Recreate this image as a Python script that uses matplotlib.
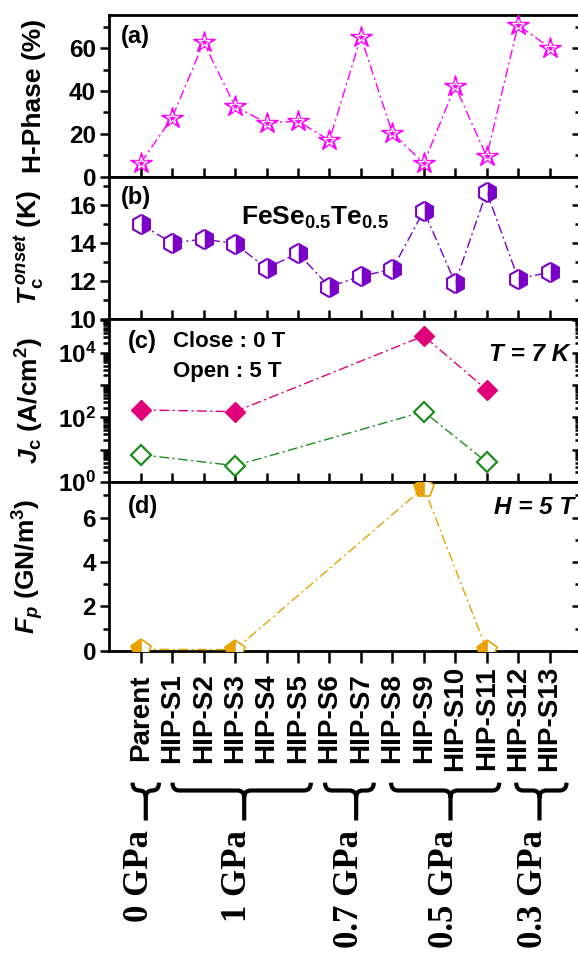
import numpy as np
import matplotlib
matplotlib.use("Agg")
import matplotlib.pyplot as plt
from matplotlib.path import Path
from matplotlib.patches import PathPatch
from matplotlib import transforms
from matplotlib.ticker import MultipleLocator, LogLocator, FuncFormatter, NullFormatter

plt.rcParams['font.family'] = ['Liberation Sans', 'DejaVu Sans']
plt.rcParams['font.weight'] = 'bold'
plt.rcParams['mathtext.fontset'] = 'custom'
plt.rcParams['mathtext.rm'] = 'Liberation Sans:bold'
plt.rcParams['mathtext.it'] = 'Liberation Sans:bold:italic'
plt.rcParams['mathtext.bf'] = 'Liberation Sans:bold'

# ---------------- data ----------------
samples = ['Parent', 'HIP-S1', 'HIP-S2', 'HIP-S3', 'HIP-S4', 'HIP-S5', 'HIP-S6',
           'HIP-S7', 'HIP-S8', 'HIP-S9', 'HIP-S10', 'HIP-S11', 'HIP-S12', 'HIP-S13']
h_phase = [6.4, 27.5, 62.7, 32.8, 25.0, 25.9, 16.9, 65.3, 20.3, 6.2, 42.2, 9.4, 70.8, 60.3]
tc_onset = [14.98, 14.0, 14.21, 13.96, 12.67, 13.47, 11.69, 12.26, 12.61, 15.69,
            11.9, 16.7, 12.13, 12.45]

jc_samples = ['Parent', 'HIP-S3', 'HIP-S9', 'HIP-S11']
jc_0T = [170, 150, 33000, 710]
jc_5T = [7.0, 3.2, 150, 4.1]
fp_5T = [0.06, 0.05, 7.35, 0.05]

groups = ['0 GPa', '1 GPa', '0.7 GPa', '0.5 GPa', '0.3 GPa']
# brace extent (left, right, stem) in sample-index units
brace_left = [-0.26, 1.01, 5.86, 7.96, 11.94]
brace_right = [0.58, 5.41, 7.41, 11.40, 13.54]
brace_stem = [0.16, 3.29, 6.85, 9.85, 12.68]

x = np.arange(len(samples))
xj = [samples.index(s) for s in jc_samples]

# ---------------- figure ----------------
W, H = 578, 956
fig = plt.figure(figsize=(W / 100, H / 100), dpi=100)

left = 109.3 / W
width = (581 - 109.3) / W


def panel(top_px, bot_px):
    return fig.add_axes([left, 1 - bot_px / H, width, (bot_px - top_px) / H])


ax_a = panel(15, 176.5)
ax_b = panel(176.5, 319)
ax_c = panel(319, 482)
ax_d = panel(482, 650.7)

ls = (0, (7, 2.5, 1.5, 2.5))

# (a) H-phase
ax_a.plot(x, h_phase, color='#FF00FF', lw=1.0, ls=ls, marker='*', ms=16,
          mfc='#FF00FF', mec='#FF00FF', clip_on=False, zorder=3)
ax_a.plot(x, h_phase, ls='none', marker='*', ms=8.5, mfc='none', mec='white',
          mew=0.9, clip_on=False, zorder=4)
ax_a.set_ylim(0, 75.5)
ax_a.yaxis.set_major_locator(MultipleLocator(20))
ax_a.yaxis.set_minor_locator(MultipleLocator(10))
ax_a.set_ylabel('H-Phase (%)', fontsize=19, fontweight='bold')
ax_a.text(0.025, 0.94, '(a)', transform=ax_a.transAxes, fontsize=17,
          fontweight='bold', va='top', ha='left')

# (b) Tc onset
ax_b.plot(x, tc_onset, color='#7A00C8', lw=1.0, ls=ls, marker='h', ms=14,
          fillstyle='right', mfc='#7A00C8', mfcalt='white', mec='#7A00C8',
          mew=1.5, clip_on=False, zorder=3)
ax_b.set_ylim(10, 17.5)
ax_b.yaxis.set_major_locator(MultipleLocator(2))
ax_b.yaxis.set_minor_locator(MultipleLocator(1))
ax_b.set_ylabel(r'$T_{\mathrm{c}}^{\,onset}$ (K)', fontsize=19, fontweight='bold')
ax_b.text(0.025, 0.93, '(b)', transform=ax_b.transAxes, fontsize=17,
          fontweight='bold', va='top', ha='left')
ax_b.text(0.28, 0.71, r'FeSe$_{\mathrm{0.5}}$Te$_{\mathrm{0.5}}$',
          transform=ax_b.transAxes, fontsize=19, fontweight='bold',
          va='center', ha='left')

# (c) Jc
ax_c.set_yscale('log')
ax_c.plot(xj, jc_0T, color='#E0007A', lw=1.0, ls=ls, marker='D', ms=10,
          mfc='#E0007A', mec='#E0007A', clip_on=False, zorder=3)
ax_c.plot(xj, jc_5T, color='#1E8C1E', lw=1.0, ls=ls, marker='D', ms=10,
          mfc='white', mec='#1E8C1E', mew=1.6, clip_on=False, zorder=3)
ax_c.set_ylim(1, 1.1e5)
ax_c.yaxis.set_major_locator(LogLocator(base=10, numticks=10))
ax_c.yaxis.set_minor_locator(LogLocator(base=10, subs=np.arange(2, 10), numticks=10))
ax_c.yaxis.set_major_formatter(FuncFormatter(
    lambda v, p: r'$\mathbf{10^{%d}}$' % round(np.log10(v)) if round(np.log10(v)) % 2 == 0 else ''))
ax_c.yaxis.set_minor_formatter(NullFormatter())
ax_c.set_ylabel(r'$J_{\mathrm{c}}$ (A/cm$^{\mathrm{2}}$)', fontsize=19, fontweight='bold')
ax_c.text(0.04, 0.93, '(c)', transform=ax_c.transAxes, fontsize=17,
          fontweight='bold', va='top', ha='left')
ax_c.text(0.135, 0.925, 'Close : 0 T', transform=ax_c.transAxes, fontsize=16,
          fontweight='bold', va='top', ha='left')
ax_c.text(0.135, 0.745, 'Open : 5 T', transform=ax_c.transAxes, fontsize=16,
          fontweight='bold', va='top', ha='left')
ax_c.text(0.975, 0.85, 'T = 7 K', transform=ax_c.transAxes, fontsize=17.5,
          fontweight='bold', fontstyle='italic', va='top', ha='right')

# (d) Fp
ax_d.plot(xj, fp_5T, color='#E8A200', lw=1.0, ls=ls, marker='p', ms=15,
          fillstyle='left', mfc='#E8A200', mfcalt='white', mec='#E8A200',
          mew=1.2, zorder=3)
ax_d.set_ylim(0, 7.6)
ax_d.yaxis.set_major_locator(MultipleLocator(2))
ax_d.yaxis.set_minor_locator(MultipleLocator(1))
ax_d.set_ylabel(r'$F_p$ (GN/m$^{\mathrm{3}}$)', fontsize=19, fontweight='bold')
ax_d.text(0.04, 0.92, '(d)', transform=ax_d.transAxes, fontsize=17,
          fontweight='bold', va='top', ha='left')
ax_d.text(0.985, 0.915, 'H = 5 T', transform=ax_d.transAxes, fontsize=17.5,
          fontweight='bold', fontstyle='italic', va='top', ha='right')

for ax in (ax_a, ax_b, ax_c, ax_d):
    ax.set_xlim(-1, 14)
    ax.set_xticks(x)
    ax.set_xticklabels([])
    for s in ax.spines.values():
        s.set_linewidth(2.0)
    ax.tick_params(axis='y', which='both', left=True, right=True,
                   labelsize=17.5, width=1.8, pad=3)
    ax.tick_params(axis='y', which='major', length=6.5)
    ax.tick_params(axis='y', which='minor', length=4)
    ax.tick_params(axis='x', which='both', direction='in', length=6.5, width=1.8,
                   top=False)
    ax.yaxis.set_label_coords(-0.135, 0.5)
    for lab in ax.get_yticklabels():
        lab.set_fontweight('bold')

for ax in (ax_a, ax_b, ax_c, ax_d):
    ax.tick_params(axis='y', which='both', direction='out')
ax_d.tick_params(axis='x', which='both', direction='out', length=8.5)

# right side ticks point inward
for ax in (ax_a, ax_b, ax_c, ax_d):
    for t in ax.yaxis.get_major_ticks() + ax.yaxis.get_minor_ticks():
        t.tick2line.set_marker(matplotlib.lines.TICKLEFT)

# sample names under the bottom panel
for xi, name in zip(x, samples):
    ax_d.text(xi, -0.40, name, transform=ax_d.get_xaxis_transform(),
              rotation=90, ha='center', va='center', fontsize=20,
              fontweight='bold', clip_on=False)

# braces and pressure groups
tr = transforms.blended_transform_factory(ax_d.transData, fig.transFigure)
yt, yb, yp = 1 - 782.7 / H, 1 - 790.5 / H, 1 - 820.5 / H
dy = 7.0 / H
for g, x0, x1, xm in zip(groups, brace_left, brace_right, brace_stem):
    r = min(0.22, (x1 - x0) / 4)
    verts = [(x0, yt), (x0, yb), (x0 + r, yb), (xm - r, yb), (xm, yb), (xm, yb - dy),
             (xm, yp),
             (x1, yt), (x1, yb), (x1 - r, yb), (xm + r, yb), (xm, yb), (xm, yb - dy)]
    codes = [Path.MOVETO, Path.CURVE3, Path.CURVE3, Path.LINETO, Path.CURVE3, Path.CURVE3,
             Path.LINETO,
             Path.MOVETO, Path.CURVE3, Path.CURVE3, Path.LINETO, Path.CURVE3, Path.CURVE3]
    fig.add_artist(PathPatch(Path(verts, codes), transform=tr, fill=False,
                             lw=3.0, ec='black', clip_on=False))
    fig.text(xm - 0.2, 1 - 830 / H, g, transform=tr, rotation=90,
             ha='center', va='top', fontsize=25, fontweight='bold',
             family='Liberation Serif')

fig.savefig('out.png', dpi=100)
